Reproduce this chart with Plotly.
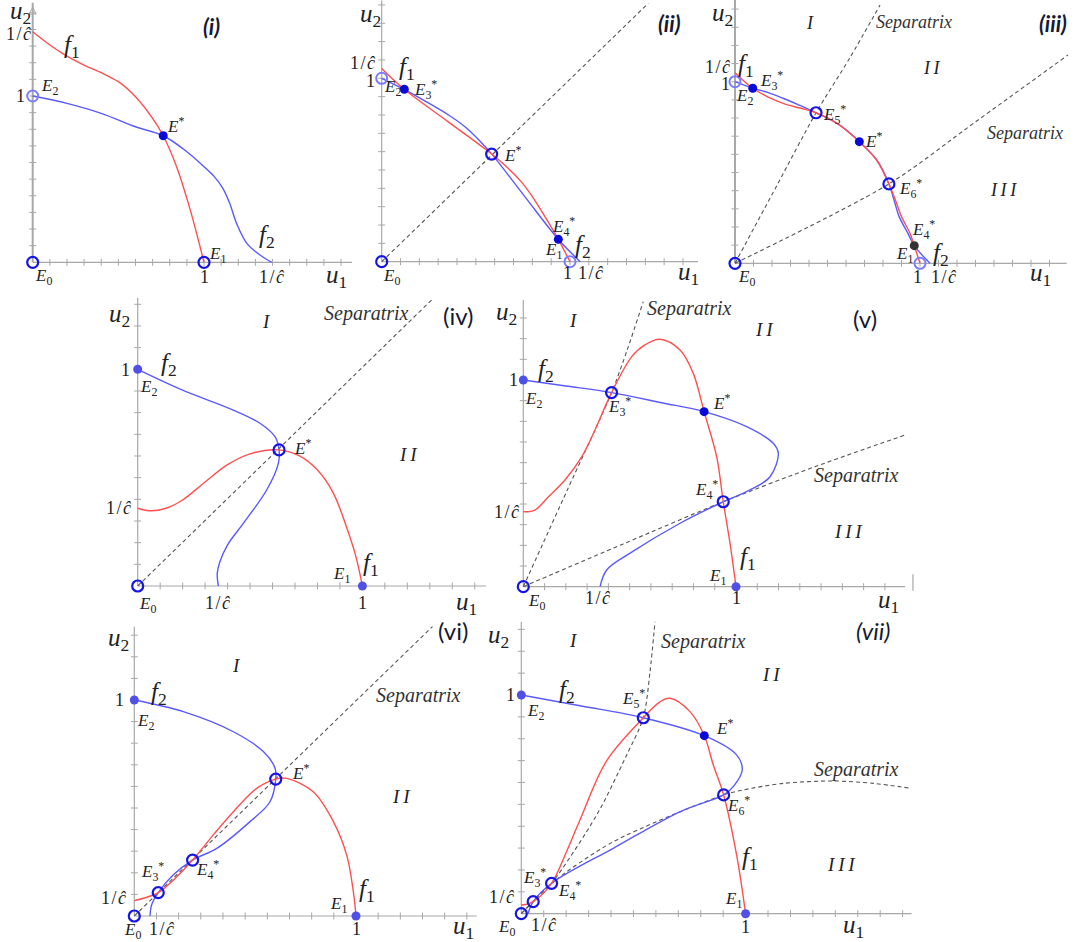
import numpy as np
import plotly.graph_objects as go

W, H = 1085, 942
SERIF = "Liberation Serif"
SANS = "Lato"

RED = "#ff5050"
BLUE = "#5a5aff"
RING = "#1414e8"
RING_LIGHT = "#7c7cff"
DOT = "#0a0ad8"
DOT_LIGHT = "#5050e6"
DOT_DARK = "#333333"
AXIS = "#a8a8a8"
SEP = "#555555"
INK = "#222222"

# ---------------- panel (i) ----------------
I_F1_U1 = [0.0, 0.10, 0.20, 0.30, 0.40, 0.50, 0.60, 0.70, 0.762, 0.84, 0.92, 1.0]
I_F1_U2 = [1.386, 1.307, 1.24, 1.186, 1.14, 1.086, 0.996, 0.866, 0.761, 0.575, 0.314, 0.0]
I_F2_U1 = [0.0, 0.20, 0.40, 0.60, 0.762, 0.90, 1.0, 1.06, 1.11, 1.15, 1.19, 1.25, 1.327, 1.395]
I_F2_U2 = [1.0, 0.956, 0.896, 0.815, 0.761, 0.665, 0.575, 0.515, 0.445, 0.355, 0.234, 0.114, 0.044, 0.0]
I_EQ_U1 = [0.0, 1.0, 0.0, 0.762]
I_EQ_U2 = [0.0, 0.0, 1.0, 0.761]
I_EQ_KIND = ["ring", "ring", "ring_light", "dot"]

# ---------------- panel (ii) ----------------
II_F1_U1 = [0.0, 0.12, 0.35, 0.584, 0.66, 0.736, 0.80, 0.87, 0.938, 1.0]
II_F1_U2 = [1.054, 0.94, 0.765, 0.587, 0.52, 0.442, 0.355, 0.24, 0.122, 0.0]
II_F2_U1 = [0.0, 0.122, 0.24, 0.355, 0.442, 0.52, 0.587, 0.76, 0.94, 1.054]
II_F2_U2 = [1.0, 0.938, 0.87, 0.80, 0.736, 0.66, 0.584, 0.355, 0.12, 0.0]
II_SEP_U1 = [0.0, 1.416]
II_SEP_U2 = [0.0, 1.409]
II_EQ_U1 = [0.0, 1.0, 0.0, 0.12, 0.584, 0.938]
II_EQ_U2 = [0.0, 0.0, 1.0, 0.94, 0.587, 0.122]
II_EQ_KIND = ["ring", "ring_light", "ring_light", "dot", "ring", "dot"]

# ---------------- panel (iii) ----------------
III_F1_U1 = [0.0, 0.096, 0.18, 0.26, 0.35, 0.438, 0.56, 0.672, 0.766, 0.832, 0.87, 0.90, 0.946, 0.969, 1.0]
III_F1_U2 = [1.05, 0.964, 0.915, 0.881, 0.855, 0.829, 0.765, 0.670, 0.569, 0.437, 0.34, 0.257, 0.165, 0.097, 0.0]
III_F2_U1 = [0.0, 0.096, 0.18, 0.26, 0.35, 0.438, 0.56, 0.672, 0.766, 0.832, 0.862, 0.887, 0.935, 0.969, 1.054]
III_F2_U2 = [1.0, 0.964, 0.94, 0.909, 0.87, 0.829, 0.765, 0.670, 0.569, 0.437, 0.34, 0.257, 0.165, 0.097, 0.0]
III_SEP1_U1 = [0.0, 0.223, 0.438, 0.62, 0.784]
III_SEP1_U2 = [0.0, 0.422, 0.829, 1.13, 1.422]
III_SEP2_U1 = [0.0, 0.832, 1.30, 1.80]
III_SEP2_U2 = [0.0, 0.437, 0.779, 1.147]
III_EQ_U1 = [0.0, 1.0, 0.0, 0.096, 0.438, 0.672, 0.832, 0.969]
III_EQ_U2 = [0.0, 0.0, 1.0, 0.964, 0.829, 0.670, 0.437, 0.097]
III_EQ_KIND = ["ring", "ring_light", "ring_light", "dot", "ring", "dot", "ring", "dot_dark"]

# ---------------- panel (iv) ----------------
IV_F1_U1 = [0.0, 0.06, 0.13, 0.20, 0.30, 0.40, 0.50, 0.629, 0.72, 0.80, 0.87, 0.93, 0.97, 1.0]
IV_F1_U2 = [0.359, 0.347, 0.36, 0.397, 0.48, 0.56, 0.61, 0.628, 0.60, 0.535, 0.43, 0.27, 0.14, 0.0]
IV_F2_U1 = [0.0, 0.20, 0.425, 0.544, 0.611, 0.629, 0.626, 0.574, 0.47, 0.40, 0.365, 0.354, 0.359]
IV_F2_U2 = [1.0, 0.904, 0.812, 0.751, 0.689, 0.628, 0.566, 0.443, 0.289, 0.19, 0.11, 0.059, 0.0]
IV_SEP_U1 = [0.0, 1.316]
IV_SEP_U2 = [0.0, 1.328]
IV_EQ_U1 = [0.0, 1.0, 0.0, 0.629]
IV_EQ_U2 = [0.0, 0.0, 1.0, 0.628]
IV_EQ_KIND = ["ring", "dot_light", "dot_light", "ring"]

# ---------------- panel (v) ----------------
V_F1_U1 = [0.0, 0.055, 0.118, 0.196, 0.275, 0.337, 0.415, 0.51, 0.572, 0.643, 0.737, 0.799, 0.85, 0.909, 0.94, 0.972, 1.0]
V_F1_U2 = [0.363, 0.371, 0.435, 0.516, 0.629, 0.758, 0.939, 1.113, 1.17, 1.197, 1.145, 1.032, 0.847, 0.629, 0.411, 0.21, 0.0]
V_F2_U1 = [0.0, 0.20, 0.415, 0.65, 0.85, 1.05, 1.175, 1.199, 1.16, 1.066, 0.94, 0.737, 0.502, 0.392, 0.361]
V_F2_U2 = [1.0, 0.971, 0.939, 0.89, 0.847, 0.774, 0.694, 0.645, 0.532, 0.468, 0.411, 0.307, 0.162, 0.081, 0.0]
V_SEP1_U1 = [0.0, 0.207, 0.415, 0.49, 0.564]
V_SEP1_U2 = [0.0, 0.468, 0.939, 1.15, 1.379]
V_SEP2_U1 = [0.0, 0.47, 0.94, 1.37, 1.795]
V_SEP2_U2 = [0.0, 0.207, 0.411, 0.58, 0.734]
V_EQ_U1 = [0.0, 1.0, 0.0, 0.415, 0.85, 0.94]
V_EQ_U2 = [0.0, 0.0, 1.0, 0.939, 0.847, 0.411]
V_EQ_KIND = ["ring", "dot_light", "dot_light", "ring", "dot", "ring"]

# ---------------- panel (vi) ----------------
VI_F1_U1 = [0.0, 0.041, 0.108, 0.185, 0.263, 0.36, 0.447, 0.552, 0.638, 0.687, 0.807, 0.898, 0.958, 0.988, 1.0]
VI_F1_U2 = [0.071, 0.082, 0.108, 0.175, 0.259, 0.38, 0.483, 0.591, 0.634, 0.637, 0.575, 0.437, 0.282, 0.113, 0.0]
VI_F2_U1 = [0.0, 0.221, 0.447, 0.582, 0.635, 0.638, 0.612, 0.522, 0.372, 0.263, 0.175, 0.108, 0.078, 0.071]
VI_F2_U2 = [1.0, 0.946, 0.853, 0.761, 0.684, 0.634, 0.529, 0.437, 0.313, 0.259, 0.19, 0.108, 0.051, 0.0]
VI_SEP_U1 = [0.0, 1.345]
VI_SEP_U2 = [0.0, 1.34]
VI_EQ_U1 = [0.0, 1.0, 0.0, 0.108, 0.263, 0.638]
VI_EQ_U2 = [0.0, 0.0, 1.0, 0.108, 0.259, 0.634]
VI_EQ_KIND = ["ring", "dot_light", "dot_light", "ring", "ring", "ring"]

# ---------------- panel (vii) ----------------
VII_F1_U1 = [0.0, 0.02, 0.053, 0.135, 0.20, 0.262, 0.381, 0.544, 0.618, 0.663, 0.752, 0.816, 0.856, 0.902, 0.96, 1.0]
VII_F1_U2 = [0.04, 0.042, 0.055, 0.139, 0.28, 0.43, 0.70, 0.896, 0.969, 0.985, 0.924, 0.814, 0.68, 0.543, 0.268, 0.0]
VII_F2_U1 = [0.0, 0.262, 0.544, 0.816, 0.96, 0.985, 0.945, 0.902, 0.707, 0.41, 0.135, 0.053, 0.03]
VII_F2_U2 = [1.0, 0.951, 0.896, 0.814, 0.726, 0.657, 0.581, 0.543, 0.466, 0.299, 0.139, 0.055, 0.0]
VII_SEP1_U1 = [0.0, 0.053, 0.135, 0.336, 0.47, 0.544, 0.574, 0.596]
VII_SEP1_U2 = [0.0, 0.055, 0.139, 0.451, 0.726, 0.896, 1.107, 1.335]
VII_SEP2_U1 = [0.0, 0.135, 0.41, 0.902, 0.99, 1.168, 1.391, 1.569, 1.74]
VII_SEP2_U2 = [0.0, 0.139, 0.329, 0.543, 0.566, 0.596, 0.607, 0.596, 0.573]
VII_EQ_U1 = [0.0, 1.0, 0.0, 0.053, 0.135, 0.544, 0.816, 0.902]
VII_EQ_U2 = [0.0, 0.0, 1.0, 0.055, 0.139, 0.896, 0.814, 0.543]
VII_EQ_KIND = ["ring", "dot_light", "dot_light", "ring", "ring", "ring", "dot", "ring"]

# text helpers
U1 = "<i>u</i><sub>1</sub>"
U2 = "<i>u</i><sub>2</sub>"
F1 = "<i>f</i><sub>1</sub>"
F2 = "<i>f</i><sub>2</sub>"
CH = "1\u200a/\u200a<i>ĉ</i>"
SEPX = "<i>Separatrix</i>"
R1 = "<i>I</i>"
R2 = "<i>I\u2009I</i>"
R3 = "<i>I\u2009I\u2009I</i>"


def E(sub="", star=False):
    s = "<i>E</i>"
    if sub:
        s += f"<sub>{sub}</sub>"
    if star:
        s += "<sup>*</sup>"
    return s


# label tuples: (text, u1, u2, style)
PANELS = [
    dict(tag="<b><i>(i)</i></b>", row=1, origin=(32.7, 262.3), scale=(171.3, 166.3),
         xr=(-0.19, 1.90), yr=(-0.12, 1.575), xend=1.864, yend=1.56, arrow=True,
         f1=(I_F1_U1, I_F1_U2), f2=(I_F2_U1, I_F2_U2), seps=[],
         eq=(I_EQ_U1, I_EQ_U2, I_EQ_KIND),
         labels=[(U2, -0.074, 1.5, "big"), (CH, -0.08, 1.37, "tick"), ("1", -0.074, 1.0, "tick"),
                 (F1, 0.228, 1.296, "big"), ("TAG", 1.045, 1.417, "tag"),
                 (E("2"), 0.1, 1.052, "e"), (E(star=True), 0.835, 0.826, "e"),
                 (F2, 1.366, 0.154, "big"), (E("1"), 1.08, 0.044, "e"), (E("0"), 0.065, -0.087, "e"),
                 ("1", 1.0, -0.087, "tick"), (CH, 1.395, -0.087, "tick"), (U1, 1.775, -0.087, "big")]),
    dict(tag="<b><i>(ii)</i></b>", row=1, origin=(381.7, 261.7), scale=(188.3, 183.4),
         xr=(-0.2, 1.75), yr=(-0.12, 1.425), xend=1.68, yend=1.425, arrow=False,
         f1=(II_F1_U1, II_F1_U2), f2=(II_F2_U1, II_F2_U2), seps=[(II_SEP_U1, II_SEP_U2)],
         eq=(II_EQ_U1, II_EQ_U2, II_EQ_KIND),
         labels=[(U2, -0.062, 1.34, "big"), (CH, -0.1, 1.085, "tick"), ("1", -0.062, 0.985, "tick"),
                 (F1, 0.135, 1.054, "big"), ("TAG", 1.531, 1.3, "tag"),
                 (E("2"), 0.06, 0.945, "e"), (E("3", True), 0.235, 0.94, "e"),
                 (E(star=True), 0.695, 0.587, "e"), (E("4", True), 0.964, 0.19, "e"),
                 (E("1"), 0.915, 0.06, "e"), (F2, 1.07, 0.085, "big"),
                 (E("0"), 0.05, -0.082, "e"), ("1", 0.985, -0.063, "tick"), (CH, 1.11, -0.063, "tick"),
                 (U1, 1.628, -0.063, "big")]),
    dict(tag="<b><i>(iii)</i></b>", row=1, origin=(735.0, 263.3), scale=(185.0, 181.6),
         xr=(-0.2, 1.88), yr=(-0.12, 1.45), xend=1.793, yend=1.45, arrow=False,
         f1=(III_F1_U1, III_F1_U2), f2=(III_F2_U1, III_F2_U2),
         seps=[(III_SEP1_U1, III_SEP1_U2), (III_SEP2_U1, III_SEP2_U2)],
         eq=(III_EQ_U1, III_EQ_U2, III_EQ_KIND),
         labels=[(U2, -0.07, 1.37, "big"), (R1, 0.405, 1.322, "roman"), (SEPX, 0.97, 1.33, "sep"),
                 ("TAG", 1.72, 1.32, "tag"), (R2, 1.063, 1.074, "roman"),
                 (F1, 0.06, 1.092, "big"), (CH, -0.09, 1.08, "tick"), ("1", -0.054, 0.99, "tick"),
                 (E("3", True), 0.195, 1.009, "e"), (E("2"), 0.05, 0.917, "e"),
                 (E("5", True), 0.54, 0.817, "e"), (E(star=True), 0.75, 0.679, "e"),
                 (SEPX, 1.565, 0.716, "sep"), (E("6", True), 0.95, 0.413, "e"),
                 (R3, 1.45, 0.404, "roman"), (E("4", True), 1.02, 0.187, "e"),
                 (E("1"), 0.915, 0.046, "e"), (F2, 1.115, 0.05, "big"),
                 ("1", 0.985, -0.074, "tick"), (CH, 1.13, -0.074, "tick"),
                 (E("0"), 0.06, -0.083, "e"), (U1, 1.649, -0.064, "big")]),
    dict(tag="(iv)", row=2, origin=(137.7, 586.0), scale=(224.7, 216.7),
         xr=(-0.2, 1.56), yr=(-0.15, 1.36), xend=1.55, yend=1.33, arrow=False,
         f1=(IV_F1_U1, IV_F1_U2), f2=(IV_F2_U1, IV_F2_U2), seps=[(IV_SEP_U1, IV_SEP_U2)],
         eq=(IV_EQ_U1, IV_EQ_U2, IV_EQ_KIND),
         labels=[(U2, -0.079, 1.25, "big"), (R1, 0.574, 1.22, "roman"), (SEPX, 1.019, 1.258, "sep"),
                 ("TAG", 1.427, 1.25, "tag"), ("1", -0.056, 0.997, "tick"), (F2, 0.14, 1.02, "big"),
                 (E("2"), 0.05, 0.912, "e"), (E(star=True), 0.735, 0.643, "e"),
                 (R2, 1.204, 0.605, "roman"), (CH, -0.085, 0.359, "tick"),
                 (F1, 1.04, 0.097, "big"), (E("1"), 0.905, 0.051, "e"), (E("0"), 0.045, -0.088, "e"),
                 (CH, 0.359, -0.08, "tick"), ("1", 1.0, -0.08, "tick"), (U1, 1.464, -0.08, "big")]),
    dict(tag="(v)", row=2, origin=(523.3, 586.7), scale=(212.7, 206.7),
         xr=(-0.2, 1.85), yr=(-0.15, 1.4), xend=1.795, yend=1.387, arrow=False,
         f1=(V_F1_U1, V_F1_U2), f2=(V_F2_U1, V_F2_U2),
         seps=[(V_SEP1_U1, V_SEP1_U2), (V_SEP2_U1, V_SEP2_U2)],
         eq=(V_EQ_U1, V_EQ_U2, V_EQ_KIND), stub=(1.832, -0.02, 0.06),
         labels=[(U2, -0.078, 1.323, "big"), (R1, 0.235, 1.29, "roman"), (SEPX, 0.78, 1.347, "sep"),
                 ("TAG", 1.606, 1.298, "tag"), (R2, 1.136, 1.242, "roman"), (F2, 0.105, 1.048, "big"),
                 ("1", -0.047, 1.0, "tick"), (E("2"), 0.05, 0.903, "e"), (E("3", True), 0.45, 0.871, "e"),
                 (E(star=True), 0.93, 0.895, "e"), (SEPX, 1.565, 0.54, "sep"),
                 (E("4", True), 0.862, 0.468, "e"), (CH, -0.078, 0.363, "tick"),
                 (R3, 1.528, 0.266, "roman"), (F1, 1.055, 0.137, "big"),
                 (E("1"), 0.915, 0.048, "e"), (E("0"), 0.06, -0.073, "e"),
                 (CH, 0.353, -0.056, "tick"), ("1", 1.003, -0.056, "tick"), (U1, 1.716, -0.073, "big")]),
    dict(tag="(vi)", row=3, origin=(134.3, 916.0), scale=(221.7, 216.0),
         xr=(-0.2, 1.56), yr=(-0.12, 1.37), xend=1.544, yend=1.339, arrow=False,
         f1=(VI_F1_U1, VI_F1_U2), f2=(VI_F2_U1, VI_F2_U2), seps=[(VI_SEP_U1, VI_SEP_U2)],
         eq=(VI_EQ_U1, VI_EQ_U2, VI_EQ_KIND),
         labels=[(U2, -0.072, 1.278, "big"), ("TAG", 1.439, 1.324, "tag"), (R1, 0.462, 1.162, "roman"),
                 (SEPX, 1.281, 1.023, "sep"), (F2, 0.11, 1.031, "big"), ("1", -0.065, 1.0, "tick"),
                 (E("2"), 0.05, 0.9, "e"), (E(star=True), 0.75, 0.668, "e"),
                 (R2, 1.206, 0.552, "roman"), (E("3", True), 0.08, 0.205, "e"),
                 (E("4", True), 0.33, 0.213, "e"), (CH, -0.09, 0.082, "tick"),
                 (F1, 1.05, 0.12, "big"), (E("1"), 0.92, 0.051, "e"), (E("0"), -0.01, -0.07, "e"),
                 (CH, 0.125, -0.058, "tick"), ("1", 1.0, -0.058, "tick"), (U1, 1.484, -0.052, "big")]),
    dict(tag="<i>(vii)</i>", row=3, origin=(521.3, 913.7), scale=(224.3, 218.7),
         xr=(-0.2, 1.8), yr=(-0.12, 1.37), xend=1.74, yend=1.335, arrow=False,
         f1=(VII_F1_U1, VII_F1_U2), f2=(VII_F2_U1, VII_F2_U2),
         seps=[(VII_SEP1_U1, VII_SEP1_U2), (VII_SEP2_U1, VII_SEP2_U2)],
         eq=(VII_EQ_U1, VII_EQ_U2, VII_EQ_KIND),
         labels=[(U2, -0.102, 1.266, "big"), (R1, 0.232, 1.251, "roman"), (SEPX, 0.814, 1.244, "sep"),
                 ("TAG", 1.569, 1.297, "tag"), (R2, 1.116, 1.092, "roman"), (F2, 0.205, 1.015, "big"),
                 ("1", -0.05, 1.0, "tick"), (E("2"), 0.065, 0.924, "e"), (E("5", True), 0.5, 0.985, "e"),
                 (E(star=True), 0.905, 0.855, "e"), (SEPX, 1.495, 0.66, "sep"),
                 (E("6", True), 0.97, 0.497, "e"), (F1, 1.02, 0.253, "big"),
                 (R3, 1.428, 0.223, "roman"), (E("3", True), 0.061, 0.165, "e"),
                 (E("4", True), 0.215, 0.108, "e"), (CH, -0.085, 0.078, "tick"),
                 (E("1"), 0.945, 0.063, "e"), (E("0"), -0.065, -0.067, "e"),
                 (CH, 0.1, -0.052, "tick"), ("1", 1.0, -0.059, "tick"), (U1, 1.48, -0.059, "big")]),
]


def style(kind, row):
    top = row == 1
    sizes = {
        "big": 25,
        "tick": 18,
        "e": 17,
        "sep": 18 if top else 20,
        "roman": 18 if top else 19,
        "tag": 22 if top else 24,
    }
    fam = SANS if kind == "tag" else SERIF
    col = "#141a33" if kind == "tag" else ("#333333" if kind == "sep" else INK)
    return dict(family=fam, size=sizes[kind], color=col)


MARK = {
    "ring": dict(symbol="circle-open", size=11, color=RING, line=dict(width=2.2, color=RING)),
    "ring_light": dict(symbol="circle-open", size=11, color=RING_LIGHT, line=dict(width=2, color=RING_LIGHT)),
    "dot": dict(symbol="circle", size=9, color=DOT, line=dict(width=0)),
    "dot_light": dict(symbol="circle", size=9, color=DOT_LIGHT, line=dict(width=0)),
    "dot_dark": dict(symbol="circle", size=9, color=DOT_DARK, line=dict(width=0)),
}

fig = go.Figure()
annotations = []
shapes = []
layout_axes = {}

for k, p in enumerate(PANELS, start=1):
    xa = "x" if k == 1 else f"x{k}"
    ya = "y" if k == 1 else f"y{k}"
    ox, oy = p["origin"]
    sx, sy = p["scale"]
    dx = [max(0.0, (ox + p["xr"][0] * sx) / W), min(1.0, (ox + p["xr"][1] * sx) / W)]
    dy = [max(0.0, 1 - (oy - p["yr"][0] * sy) / H), min(1.0, 1 - (oy - p["yr"][1] * sy) / H)]
    layout_axes["xaxis" if k == 1 else f"xaxis{k}"] = dict(domain=dx, range=list(p["xr"]), visible=False,
                                                          anchor=ya, fixedrange=True)
    layout_axes["yaxis" if k == 1 else f"yaxis{k}"] = dict(domain=dy, range=list(p["yr"]), visible=False,
                                                          anchor=xa, fixedrange=True)

    # coordinate axes through the origin
    yw = 2.0 if k in (1, 3) else 1.2
    shapes.append(dict(type="line", xref=xa, yref=ya, x0=0, y0=0, x1=p["xend"], y1=0,
                       line=dict(color=AXIS, width=1.2), layer="below"))
    shapes.append(dict(type="line", xref=xa, yref=ya, x0=0, y0=0, x1=0, y1=p["yend"],
                       line=dict(color=AXIS, width=yw), layer="below"))
    if "stub" in p:
        sxv, s0, s1 = p["stub"]
        shapes.append(dict(type="line", xref=xa, yref=ya, x0=sxv, y0=s0, x1=sxv, y1=s1,
                           line=dict(color=AXIS, width=1.2), layer="below"))

    # minor tick marks along both axes
    tx = np.arange(0.1, p["xend"] - 0.02, 0.1)
    ty = np.arange(0.1, p["yend"] - 0.02, 0.1)
    fig.add_trace(go.Scatter(x=tx, y=np.zeros_like(tx), mode="markers", xaxis=xa, yaxis=ya,
                             marker=dict(symbol="line-ns", size=5, color=AXIS, line=dict(width=1, color=AXIS)),
                             hoverinfo="skip", showlegend=False))
    fig.add_trace(go.Scatter(x=np.zeros_like(ty), y=ty, mode="markers", xaxis=xa, yaxis=ya,
                             marker=dict(symbol="line-ew", size=5, color=AXIS, line=dict(width=1, color=AXIS)),
                             hoverinfo="skip", showlegend=False))
    if p["arrow"]:
        fig.add_trace(go.Scatter(x=[0], y=[p["yend"] - 0.025], mode="markers", xaxis=xa, yaxis=ya,
                                 marker=dict(symbol="arrow-up-open", size=7, color=AXIS,
                                             line=dict(width=1, color=AXIS)),
                                 hoverinfo="skip", showlegend=False))

    # separatrices
    for su1, su2 in p["seps"]:
        fig.add_trace(go.Scatter(x=su1, y=su2, mode="lines", xaxis=xa, yaxis=ya,
                                 line=dict(color=SEP, width=1.1, dash="4px,3px", shape="spline", smoothing=0.8),
                                 hoverinfo="skip", showlegend=False))

    # nullclines
    for (cu1, cu2), col in ((p["f2"], BLUE), (p["f1"], RED)):
        fig.add_trace(go.Scatter(x=cu1, y=cu2, mode="lines", xaxis=xa, yaxis=ya,
                                 line=dict(color=col, width=1.4, shape="spline", smoothing=1.0),
                                 hoverinfo="skip", showlegend=False))

    # equilibria
    eu1, eu2, ekind = p["eq"]
    for kind in ["ring_light", "ring", "dot_light", "dot", "dot_dark"]:
        idx = [i for i, kk in enumerate(ekind) if kk == kind]
        if not idx:
            continue
        fig.add_trace(go.Scatter(x=[eu1[i] for i in idx], y=[eu2[i] for i in idx], mode="markers",
                                 xaxis=xa, yaxis=ya, marker=MARK[kind], cliponaxis=False,
                                 hoverinfo="skip", showlegend=False))

    for text, lu1, lu2, st in p["labels"]:
        annotations.append(dict(text=p["tag"] if text == "TAG" else text, x=lu1, y=lu2, xref=xa, yref=ya,
                                showarrow=False, font=style(st, p["row"]),
                                xanchor="center", yanchor="middle"))

fig.update_layout(
    width=W, height=H,
    margin=dict(l=0, r=0, t=0, b=0),
    paper_bgcolor="white",
    plot_bgcolor="rgba(0,0,0,0)",
    showlegend=False,
    annotations=annotations,
    shapes=shapes,
    **layout_axes,
)

fig.write_html("out.html", config={"displayModeBar": False})
